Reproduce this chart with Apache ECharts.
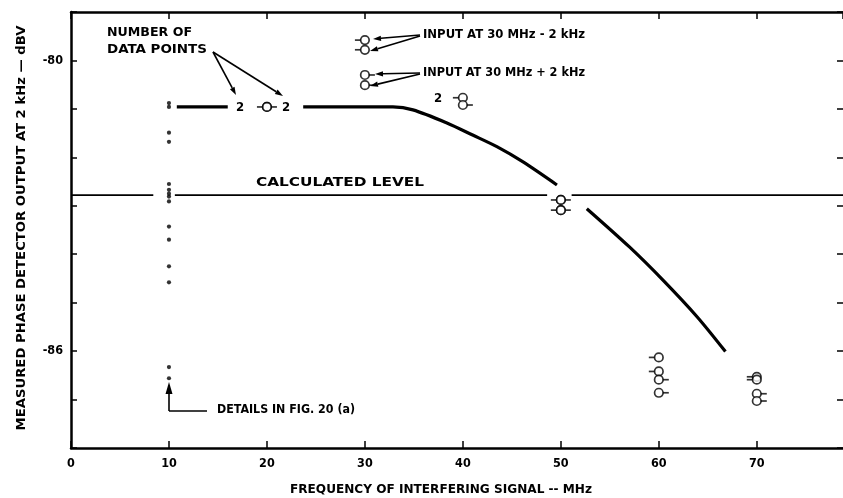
<!DOCTYPE html>
<html><head><meta charset="utf-8">
<script src="https://cdn.jsdelivr.net/npm/echarts@6/dist/echarts.min.js"></script>
<style>html,body{margin:0;padding:0;background:#fff}#c{width:843px;height:498px}</style>
</head><body><div id="c"></div>
<script>
// ---- data ----
const xTickLabels = [0, 10, 20, 30, 40, 50, 60, 70];
const yTickLabels = [-80, -86];
const calcLevel = -82.78;
const calcGapsX = [[0, 8.4], [10.6, 48.6], [51.1, 78.8]];
const curveA = [[10.8, -80.96], [16.0, -80.96]];
const curveB = [[23.7, -80.96], [27.5, -80.96], [31.0, -80.96], [32.86, -80.96], [34.9, -81.02], [38.37, -81.29], [41.0, -81.54], [43.47, -81.78], [46.1, -82.09], [49.6, -82.57]];
const curveC = [[52.65, -83.06], [57.0, -83.85], [60.4, -84.53], [63.9, -85.29], [66.8, -86.01]];
const dotFreq = 10;
const dotLevels = [-80.88, -80.96, -81.49, -81.68, -82.55, -82.67, -82.75, -82.81, -82.91, -83.43, -83.70, -84.25, -84.58, -86.33, -86.56];
const minusFreq = [20, 30, 30, 40, 50, 50, 60, 60, 70, 70];
const minusLevel = [-80.96, -79.58, -79.78, -80.77, -82.88, -83.09, -86.13, -86.42, -86.53, -86.59];
const plusFreq = [20, 30, 30, 40, 50, 50, 60, 60, 70, 70];
const plusLevel = [-80.96, -80.30, -80.51, -80.92, -82.88, -83.09, -86.59, -86.86, -86.88, -87.03];

const FONT = '"DejaVu Sans Condensed", "DejaVu Sans", sans-serif';
const chart = echarts.init(document.getElementById('c'), null, {renderer: 'canvas'});

function pairs(xs, ys) { return xs.map((x, i) => [x, ys[i]]); }
const dots = dotLevels.map(v => [dotFreq, v]);
const minusPts = pairs(minusFreq, minusLevel);
const plusPts = pairs(plusFreq, plusLevel);

const mctx = document.createElement('canvas').getContext('2d');
function measure(t, font) { mctx.font = font; return mctx.measureText(t).width; }

function arrow(x1, y1, x2, y2, head, hw) {
  head = head || 8; hw = hw || 2.6;
  const a = Math.atan2(y2 - y1, x2 - x1);
  const c = Math.cos(a), s = Math.sin(a);
  const bx = x2 - head * c, by = y2 - head * s;
  return [
    {type: 'line', shape: {x1: x1, y1: y1, x2: bx, y2: by}, style: {stroke: '#000', lineWidth: 1.6}},
    {type: 'polygon', shape: {points: [[x2, y2], [bx + hw * s, by - hw * c], [bx - hw * s, by + hw * c]]}, style: {fill: '#000'}}
  ];
}
function txt(x, y, t, width, opts) {
  opts = opts || {};
  const size = opts.size || 12;
  const font = 'bold ' + size + 'px ' + FONT;
  const align = opts.align || 'left';
  const sx = width ? width / measure(t, font) : 1;
  return {type: 'text', x: x, y: y, rotation: opts.rotation || 0, scaleX: sx,
    style: {text: t, fill: '#000', font: font, textAlign: align, textVerticalAlign: 'middle'}};
}

const X_MAX = 78.8, Y_MIN = -88, Y_MAX = -79;
const frameLine = {show: true, onZero: false, lineStyle: {color: '#000', width: 2.5}};
function tick(len) { return {show: true, inside: true, length: len, lineStyle: {color: '#000', width: 1.5}}; }
function xAxisDef(pos, labels) {
  return {type: 'value', position: pos, min: 0, max: X_MAX, interval: 10,
    axisLine: frameLine, axisTick: tick(7), splitLine: {show: false},
    axisLabel: labels ? {show: true, color: '#000', fontFamily: FONT, fontWeight: 'bold', fontSize: 12.5, margin: 9,
      showMaxLabel: false,
      formatter: v => xTickLabels.indexOf(Math.round(v)) >= 0 && Math.abs(v - Math.round(v)) < 1e-6 ? String(Math.round(v)) : ''} : {show: false}};
}
function yAxisDef(pos, labels, showLine) {
  return {type: 'value', position: pos, min: Y_MIN, max: Y_MAX, interval: 1,
    axisLine: Object.assign({}, frameLine, {show: showLine}), axisTick: tick(6), splitLine: {show: false},
    axisLabel: labels ? {show: true, color: '#000', fontFamily: FONT, fontWeight: 'bold', fontSize: 12.5, margin: 8,
      formatter: v => yTickLabels.indexOf(Math.round(v)) >= 0 ? String(Math.round(v)) : ''} : {show: false}};
}

const calcSeries = calcGapsX.map(r => ({
  type: 'line', data: [[r[0], calcLevel], [r[1], calcLevel]], symbol: 'none',
  lineStyle: {color: '#000', width: 1.6}, silent: true, z: 2
}));
const curveSeries = [curveA, curveB, curveC].map(d => ({
  type: 'line', data: d, symbol: 'none', smooth: 0.3,
  lineStyle: {color: '#000', width: 3.2}, silent: true, z: 3
}));

const option = {
  animation: false,
  backgroundColor: '#fff',
  grid: {left: 71, right: -1, top: 12, bottom: 50, containLabel: false},
  xAxis: [xAxisDef('bottom', true), xAxisDef('top', false)],
  yAxis: [yAxisDef('left', true, true), yAxisDef('right', false, false)],
  series: [].concat(calcSeries, curveSeries, [
    {type: 'scatter', data: dots, symbol: 'circle', symbolSize: 4.2, itemStyle: {color: '#000'}, z: 4},
    {type: 'scatter', data: minusPts, symbol: 'rect', symbolSize: [6, 1.7], symbolOffset: [-7, 0], itemStyle: {color: '#000'}, z: 4},
    {type: 'scatter', data: plusPts, symbol: 'rect', symbolSize: [6, 1.7], symbolOffset: [7, 0], itemStyle: {color: '#000'}, z: 4},
    {type: 'scatter', data: minusPts, symbol: 'circle', symbolSize: 8.5, itemStyle: {color: '#fff', borderColor: '#000', borderWidth: 1.7}, z: 5},
    {type: 'scatter', data: plusPts, symbol: 'circle', symbolSize: 8.5, itemStyle: {color: '#fff', borderColor: '#000', borderWidth: 1.7}, z: 5}
  ]),
  graphic: [].concat(
    [
      txt(107, 33, 'NUMBER OF', 85),
      txt(107, 50, 'DATA POINTS', 100),
      txt(240, 108, '2', 0, {align: 'center', size: 13}),
      txt(286, 108, '2', 0, {align: 'center', size: 13}),
      txt(423, 35, 'INPUT AT 30 MHz - 2 kHz', 162),
      txt(423, 73, 'INPUT AT 30 MHz + 2 kHz', 162),
      txt(438, 99, '2', 0, {align: 'center', size: 13}),
      txt(256, 183, 'CALCULATED LEVEL', 168),
      txt(217, 410, 'DETAILS IN FIG. 20 (a)', 138),
      txt(441, 490, 'FREQUENCY OF INTERFERING SIGNAL -- MHz', 302, {align: 'center', size: 12.5}),
      txt(22, 228, 'MEASURED PHASE DETECTOR OUTPUT AT 2 kHz \u2014 dBV', 405, {align: 'center', size: 13, rotation: Math.PI / 2}),
      {type: 'line', shape: {x1: 169, y1: 411, x2: 207, y2: 411}, style: {stroke: '#000', lineWidth: 1.6}}
    ],
    arrow(213, 52, 236, 95),
    arrow(213, 52, 283, 96),
    arrow(420, 35, 373, 39),
    arrow(420, 36, 370, 51),
    arrow(420, 73, 375, 74),
    arrow(420, 74, 370, 86),
    arrow(169, 411, 169, 382, 12, 3.5)
  )
};
chart.setOption(option);
</script></body></html>
